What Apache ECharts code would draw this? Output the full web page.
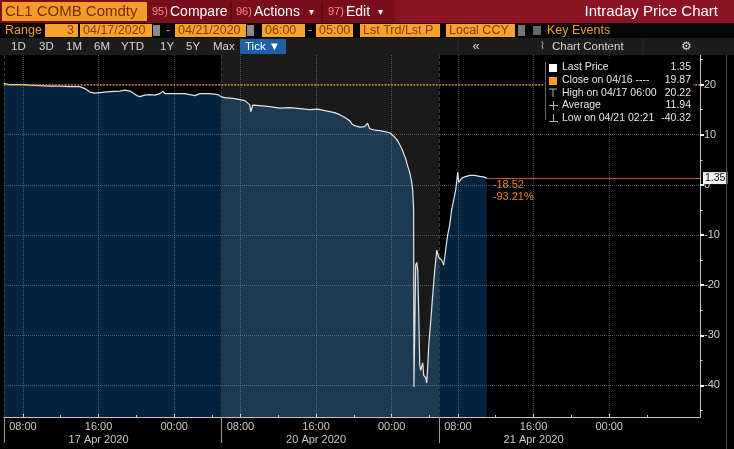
<!DOCTYPE html>
<html><head><meta charset="utf-8">
<script src="https://cdn.jsdelivr.net/npm/echarts@6/dist/echarts.min.js"></script>
<style>html,body{margin:0;padding:0;background:#000;overflow:hidden}#c{width:734px;height:449px}</style>
</head><body><div id="c"></div>
<script>
// ---------------- data ----------------
const sessionStarts = ['04/17 06:00', '04/20 06:00', '04/21 06:00'];
const sessionDateLabels = ['17 Apr 2020', '20 Apr 2020', '21 Apr 2020'];
const SESSION_HOURS = 23;
const AXIS_END_HOURS = 73.6;
const majorClock = ['08:00', '16:00', '00:00'];
const minorClock = ['08:00', '12:00', '16:00', '20:00', '00:00', '04:00'];
const yTicks = [-40, -30, -20, -10, 0, 10, 20];
const yMinorTicks = [-45, -35, -25, -15, -5, 5, 15, 25];
const Y_MIN = -46.3, Y_MAX = 25.9;

const times = [
 '04/17 06:00','04/17 06:37','04/17 07:41','04/17 08:44','04/17 09:47','04/17 10:51','04/17 11:55','04/17 12:58',
 '04/17 14:01','04/17 14:33','04/17 15:05','04/17 15:37','04/17 16:08','04/17 17:11','04/17 18:15','04/17 18:47',
 '04/17 19:19','04/17 20:03','04/17 20:22','04/17 20:53','04/17 21:25','04/17 21:57','04/17 22:29','04/17 22:48',
 '04/17 23:01','04/18 00:04','04/18 01:07','04/18 02:11','04/18 02:43','04/18 03:46','04/18 04:37','04/18 04:56',
 '04/20 06:21','04/20 07:24','04/20 08:28','04/20 08:59','04/20 09:06','04/20 09:18','04/20 10:03','04/20 11:06',
 '04/20 12:10','04/20 13:13','04/20 14:17','04/20 15:20','04/20 16:11','04/20 16:55','04/20 17:58','04/20 18:30',
 '04/20 19:01','04/20 19:33','04/20 19:46','04/20 20:05','04/20 20:37','04/20 21:08','04/20 21:27','04/20 21:40',
 '04/20 22:12','04/20 22:44','04/20 23:15','04/20 23:47','04/21 00:06','04/21 00:19','04/21 00:38','04/21 00:51',
 '04/21 01:03','04/21 01:16','04/21 01:29','04/21 01:41','04/21 01:54','04/21 02:07','04/21 02:13','04/21 02:19',
 '04/21 02:21','04/21 02:32','04/21 02:39','04/21 02:45','04/21 02:51','04/21 02:58','04/21 03:04','04/21 03:17',
 '04/21 03:23','04/21 03:36','04/21 03:42','04/21 03:49','04/21 03:55','04/21 04:08','04/21 04:20','04/21 04:33',
 '04/21 04:46','04/21 04:58',
 '04/21 06:17','04/21 06:30','04/21 06:42','04/21 06:55','04/21 07:08','04/21 07:20','04/21 07:33','04/21 07:46',
 '04/21 07:59','04/21 08:05','04/21 08:24','04/21 08:43','04/21 09:15','04/21 09:46','04/21 10:18','04/21 10:43',
 '04/21 11:03'
];
const prices = [
 20.22, 20.0, 20.0, 19.9, 19.8, 19.7, 19.7, 19.6,
 19.6, 19.2, 18.5, 18.3, 18.4, 18.6, 18.7, 18.9,
 18.7, 17.8, 17.6, 17.9, 18.0, 17.9, 18.2, 18.7,
 18.2, 18.2, 18.2, 17.8, 18.2, 18.2, 18.0, 17.6,
 17.4, 17.2, 16.8, 16.0, 14.6, 15.9, 15.8, 15.6,
 15.3, 15.4, 15.2, 15.0, 15.1, 14.8, 14.4, 14.0,
 13.5, 12.8, 12.2, 11.8, 11.5, 11.6, 12.3, 11.2,
 10.9, 10.8, 10.6, 10.4, 9.9, 9.5, 8.8, 8.0,
 7.3, 6.2, 5.2, 3.8, 2.5, 0.5, -1.0, -5.0,
 -40.32, -16.0, -15.5, -17.0, -25.0, -36.0, -37.0, -35.5,
 -38.0, -38.5, -39.5, -36.0, -32.0, -27.0, -22.0, -17.0,
 -13.0, -14.5,
 -15.0, -16.0, -13.0, -10.0, -8.0, -5.0, -3.0, -1.0,
 2.5, 0.5, 1.3, 1.6, 1.9, 1.9, 1.7, 1.6,
 1.35
];
const closePrev = 19.87;
const statLabels = ['Last Price', 'Close on 04/16 ----', 'High on 04/17 06:00', 'Average', 'Low on 04/21 02:21'];
const statValues = [1.35, 19.87, 20.22, 11.94, -40.32];

// ---------------- helpers ----------------
function parseT(s) {
  const [d, t] = s.split(' ');
  const [M, D] = d.split('/').map(Number);
  const [h, m] = t.split(':').map(Number);
  return Date.UTC(2020, M - 1, D, h, m);
}
const startMs = sessionStarts.map(parseT);
const sessionStartHour = Number(sessionStarts[0].split(' ')[1].split(':')[0]);
function sessionHour(s) {
  const ts = parseT(s);
  let idx = 0;
  for (let i = 0; i < startMs.length; i++) if (ts >= startMs[i]) idx = i;
  return idx * SESSION_HOURS + (ts - startMs[idx]) / 3600000;
}
function clockOffsets(list) {
  const out = [];
  for (let i = 0; i < sessionStarts.length; i++) {
    list.forEach(c => {
      const hh = Number(c.split(':')[0]);
      out.push(i * SESSION_HOURS + ((hh - sessionStartHour + 24) % 24));
    });
  }
  return out;
}
const majorTicks = clockOffsets(majorClock);
const minorTicks = clockOffsets(minorClock);
const sessionTicks = sessionStarts.map((s, i) => i * SESSION_HOURS);
function xLabel(v) {
  const idx = Math.min(Math.floor(v / SESSION_HOURS + 1e-9), sessionStarts.length - 1);
  const hh = Math.round(sessionStartHour + v - idx * SESSION_HOURS) % 24;
  const lab = (hh < 10 ? '0' : '') + hh + ':00';
  return hh === 16 ? lab + '\n' + sessionDateLabels[idx] : lab;
}

const seriesData = times.map((t, i) => [sessionHour(t), prices[i]]);
const lastX = seriesData[seriesData.length - 1][0];
const lastVal = prices[prices.length - 1];
const change = lastVal - closePrev;
const changePct = change / closePrev * 100;

const FONT = '"Liberation Sans", Arial, sans-serif';

// ---------------- toolbar / legend graphics ----------------
const G = [];
function rect(x, y, w, h, fill) { G.push({type: 'rect', z: 20, silent: true, shape: {x, y, width: w, height: h}, style: {fill}}); }
function text(x, y, str, fill, size, align) {
  G.push({type: 'text', z: 21, silent: true, x, y, style: {text: str, fill, font: size + 'px ' + FONT,
    align: align || 'left', textAlign: align || 'left', verticalAlign: 'middle', textVerticalAlign: 'middle'}});
}
function line(x1, y1, x2, y2, stroke, w) { G.push({type: 'line', z: 21, silent: true, shape: {x1, y1, x2, y2}, style: {stroke, lineWidth: w || 1}}); }

// row 1
rect(0, 0, 734, 23, '#7a0d1a');
rect(395, 0, 339, 23, '#8c1322');
rect(2, 2, 145, 19, '#f39c2c');
text(5, 12, 'CL1 COMB Comdty', '#7a2800', 15);
text(152, 12, '95)', '#f08c8c', 11); text(170, 12, 'Compare', '#ffffff', 14);
line(231, 2, 231, 21, '#4a0710');
text(236, 12, '96)', '#f08c8c', 11); text(254, 12, 'Actions', '#ffffff', 14); text(309, 12, '▾', '#ffffff', 10);
line(322, 2, 322, 21, '#4a0710');
text(328, 12, '97)', '#f08c8c', 11); text(346, 12, 'Edit', '#ffffff', 14); text(378, 12, '▾', '#ffffff', 10);
text(718, 12, 'Intraday Price Chart', '#ffffff', 15, 'right');
// row 2
rect(0, 23, 734, 15, '#050505');
text(5, 30.5, 'Range', '#f39c2c', 12.5);
const boxes = [[45, 33, '3', 'right'], [80, 72, '04/17/2020'], [175, 71, '04/21/2020'], [262, 43, '06:00'], [316, 37, '05:00'], [360, 80, 'Lst Trd/Lst P'], [446, 69, 'Local CCY']];
boxes.forEach(b => {
  rect(b[0], 24, b[1], 13, '#f5a22e');
  if (b[3] === 'right') text(b[0] + b[1] - 4, 30.5, b[2], '#8a3a00', 12.5, 'right');
  else text(b[0] + 3, 30.5, b[2], '#8a3a00', 12.5);
});
rect(153, 25, 7, 11, '#8a8a8a'); rect(247, 25, 7, 11, '#8a8a8a');
text(166, 30.5, '-', '#f39c2c', 12.5); text(308, 30.5, '-', '#f39c2c', 12.5);
rect(518, 25, 7, 11, '#777777'); rect(533, 26, 8, 9, '#666666');
text(547, 30.5, 'Key Events', '#f39c2c', 12.5);
// row 3
rect(0, 38, 734, 17, '#1c1c1c');
[['1D', 11], ['3D', 39], ['1M', 66], ['6M', 94], ['YTD', 121], ['1Y', 160], ['5Y', 186], ['Max', 213]].forEach(t => text(t[1], 46.5, t[0], '#d6d6d6', 11.5));
rect(240, 39, 46, 15, '#1f5fa8');
text(245, 46.5, 'Tick ▼', '#ffffff', 11.5);
text(476, 46, '«', '#d6d6d6', 13, 'center');
text(540, 46.5, '⌇', '#bdbdbd', 10);
text(552, 46.5, 'Chart Content', '#d6d6d6', 11.5);
text(686, 46.5, '⚙', '#d6d6d6', 12, 'center');
line(458, 39, 458, 54, '#2c2c2c'); line(610, 39, 610, 54, '#2c2c2c'); line(643, 39, 643, 54, '#2c2c2c');
// right frame line
line(726.5, 55, 726.5, 449, '#4a4a4a');
// legend box
rect(543, 58, 150, 65, '#000000');
line(545.5, 62, 545.5, 120, '#6a6a6a');
const rowsY = [67.5, 80.5, 93, 105.5, 118];
rect(549, 64, 8, 8, '#ffffff');
rect(549, 77, 8, 8, '#f39c2c');
line(549, 89, 557, 89, '#b0b0b0'); line(553, 89, 553, 97, '#b0b0b0');
line(549, 105.5, 558, 105.5, '#b0b0b0'); line(553.5, 101, 553.5, 110, '#b0b0b0');
line(553.5, 114, 553.5, 121, '#b0b0b0'); line(549, 121.5, 558, 121.5, '#b0b0b0');
statLabels.forEach((l, i) => {
  text(562, rowsY[i], l, '#e6e6e6', 10.5);
  text(691, rowsY[i], statValues[i].toFixed(2), '#e6e6e6', 10.5, 'right');
});

// ---------------- chart ----------------
const gridLine = {type: 'dotted', color: 'rgba(150,170,200,0.45)', width: 1};
const chart = echarts.init(document.getElementById('c'));
chart.setOption({
  backgroundColor: '#000000',
  animation: false,
  textStyle: {fontFamily: FONT},
  grid: {left: 4, right: 34, top: 55, bottom: 32},
  xAxis: [
    {type: 'value', min: 0, max: AXIS_END_HOURS, position: 'bottom', z: 3,
     axisLine: {show: true, onZero: false, lineStyle: {color: '#c4c4c4', width: 1}},
     axisTick: {show: true, inside: true, length: 3, customValues: majorTicks, lineStyle: {color: '#e0e0e0'}},
     axisLabel: {customValues: majorTicks, formatter: xLabel, color: '#c8c8c8', fontSize: 11, lineHeight: 13, margin: 3, fontFamily: FONT},
     splitLine: {show: true, lineStyle: gridLine}},
    {type: 'value', min: 0, max: AXIS_END_HOURS, position: 'bottom', z: 3,
     axisLine: {show: false, onZero: false}, axisLabel: {show: false}, splitLine: {show: false},
     axisTick: {show: true, inside: true, length: 2, customValues: minorTicks, lineStyle: {color: '#cccccc'}}},
    {type: 'value', min: 0, max: AXIS_END_HOURS, position: 'bottom', z: 3,
     axisLine: {show: false, onZero: false}, axisLabel: {show: false},
     axisTick: {show: true, inside: false, length: 26, customValues: sessionTicks, lineStyle: {color: '#9a9a9a'}},
     splitLine: {show: true, lineStyle: {type: 'dashed', color: '#3a3a3a', width: 1}}}
  ],
  yAxis: [
    {type: 'value', position: 'right', min: Y_MIN, max: Y_MAX, z: 3,
     axisLine: {show: true, onZero: false, lineStyle: {color: '#c4c4c4'}},
     axisTick: {show: true, length: 4, customValues: yTicks, lineStyle: {color: '#f0f0f0', width: 2}},
     axisLabel: {customValues: yTicks, color: '#d0d0d0', fontSize: 11, margin: 4, fontFamily: FONT},
     splitLine: {show: true, lineStyle: gridLine}},
    {type: 'value', position: 'right', min: Y_MIN, max: Y_MAX, z: 3,
     axisLine: {show: false, onZero: false}, axisLabel: {show: false}, splitLine: {show: false},
     axisTick: {show: true, length: 2.5, customValues: yMinorTicks, lineStyle: {color: '#cccccc'}}}
  ],
  series: [
    {type: 'line', data: seriesData, z: 1, silent: true, showSymbol: false,
     lineStyle: {width: 0}, areaStyle: {color: '#05233f', origin: 'start', opacity: 1}},
    {type: 'line', data: seriesData, z: 2, silent: true, showSymbol: false, lineStyle: {width: 0},
     markArea: {silent: true, z: 2, itemStyle: {color: 'rgba(255,255,255,0.1)'},
       data: [[{xAxis: sessionTicks[1]}, {xAxis: sessionTicks[2]}]]}},
    {type: 'line', data: seriesData, z: 4, silent: true, showSymbol: false,
     lineStyle: {color: '#e4e4e4', width: 1.2},
     markLine: {silent: true, symbol: 'none', z: 5,
       data: [
         {yAxis: closePrev, lineStyle: {type: 'dotted', color: '#e8851f', width: 1.6}, label: {show: false}},
         [{coord: [lastX, lastVal], lineStyle: {type: 'solid', color: '#c9552c', width: 1.2},
           label: {show: true, position: 'end', distance: 3, formatter: lastVal.toFixed(2), color: '#111', fontSize: 10.5,
                   backgroundColor: '#f2f2f2', padding: [1, 2, 0, 2], fontFamily: FONT}},
          {coord: [AXIS_END_HOURS, lastVal]}]
       ]},
     markPoint: {silent: true, symbol: 'rect', symbolSize: 0,
       data: [{coord: [lastX, lastVal],
         label: {show: true, position: 'right', distance: 6, offset: [0, 13], align: 'left',
                 formatter: change.toFixed(2) + '\n' + changePct.toFixed(2) + '%',
                 color: '#e8851f', fontSize: 11, lineHeight: 12, fontFamily: FONT}}]}}
  ],
  graphic: {elements: G}
});
</script></body></html>
